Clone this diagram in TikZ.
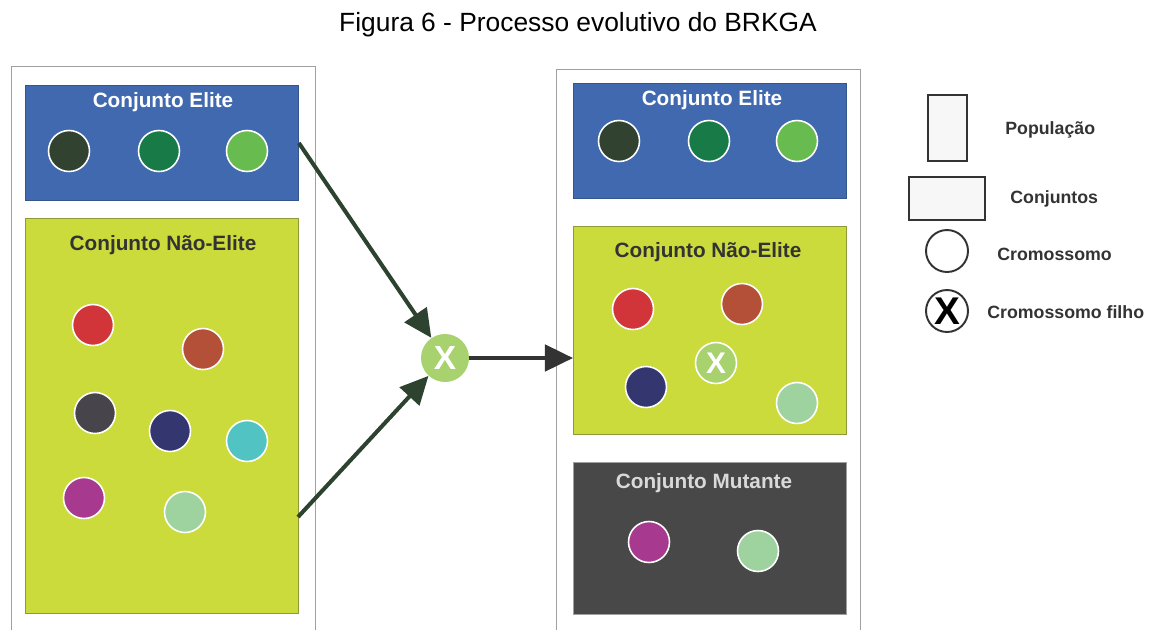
\documentclass[tikz,border=0pt]{standalone}
\usepackage{fontspec}
\setmainfont{Liberation Sans}
\usetikzlibrary{arrows.meta}

\definecolor{eliteblue}{HTML}{4169B0}
\definecolor{limefill}{HTML}{CCDB3C}
\definecolor{limeedge}{HTML}{8E9A3A}
\definecolor{mutgray}{HTML}{484848}
\definecolor{framegray}{HTML}{A0A0A0}
\definecolor{txtdark}{HTML}{333333}
\definecolor{arrgreen}{HTML}{2D4330}
\definecolor{arrdark}{HTML}{333333}
\definecolor{xgreen}{HTML}{A8D26E}
% chromosome colours
\definecolor{cDark}{HTML}{314230}
\definecolor{cGreen}{HTML}{177A47}
\definecolor{cLight}{HTML}{68BB4E}
\definecolor{cRed}{HTML}{D1353A}
\definecolor{cBrown}{HTML}{B44F38}
\definecolor{cGray}{HTML}{47454B}
\definecolor{cNavy}{HTML}{33366F}
\definecolor{cCyan}{HTML}{52C3C3}
\definecolor{cPurple}{HTML}{A7398F}
\definecolor{cMint}{HTML}{9ED3A0}

\tikzset{
  popframe/.style={draw=framegray, line width=0.7pt, fill=white, inner sep=0pt, anchor=north west, minimum width=6.08cm},
  setbox/.style={inner sep=0pt, anchor=north west, minimum width=5.46cm, line width=0.5pt},
  elitebox/.style={setbox, fill=eliteblue, draw=eliteblue!80!black},
  nonbox/.style={setbox, fill=limefill, draw=limeedge},
  mutbox/.style={setbox, fill=mutgray, draw=framegray},
  settitle/.style={font=\bfseries\fontsize{11.8}{14}\selectfont},
  chromo/.style={circle, draw=white, line width=0.9pt, minimum size=0.82cm, inner sep=0pt},
  cross/.style={circle, fill=xgreen, minimum size=0.96cm, inner sep=0pt, text=white, font=\bfseries\fontsize{19}{20}\selectfont},
  feed/.style={draw=arrgreen, line width=2.3pt, -{Triangle[length=16pt,width=15pt]}},
  legshape/.style={draw=txtdark, line width=1.1pt, fill=white!97!black, inner sep=0pt},
  legtext/.style={anchor=west, inner sep=0pt, text=txtdark, font=\bfseries\fontsize{10.1}{12}\selectfont},
}

\begin{document}
\begin{tikzpicture}[x=0.02cm, y=-0.02cm]
\useasboundingbox (0,0) rectangle (1156,629);

% caption
\node (caption) at (578,25) {\fontsize{15}{18}\selectfont Figura 6 - Processo evolutivo do BRKGA};

% ---- current population ----
\node[popframe, minimum height=11.6cm] (popL) at (11,66) {};
\node[elitebox, minimum height=2.3cm] (eliteL) at (25,85) {};
\node[settitle, text=white] (eliteLt) at (163,102) {Conjunto Elite};
\node[chromo, fill=cDark]  (eL1) at (69,151) {};
\node[chromo, fill=cGreen] (eL2) at (159,151) {};
\node[chromo, fill=cLight] (eL3) at (247,151) {};

\node[nonbox, minimum height=7.9cm] (nonL) at (25,218) {};
\node[settitle, text=txtdark] (nonLt) at (163,245) {Conjunto Não-Elite};
\node[chromo, fill=cRed]    (nL1) at (93,325) {};
\node[chromo, fill=cBrown]  (nL2) at (203,349) {};
\node[chromo, fill=cGray]   (nL3) at (95,413) {};
\node[chromo, fill=cNavy]   (nL4) at (170,431) {};
\node[chromo, fill=cCyan]   (nL5) at (247,441) {};
\node[chromo, fill=cPurple] (nL6) at (84,498) {};
\node[chromo, fill=cMint]   (nL7) at (185,512) {};

% ---- crossover ----
\node[cross] (mate) at (445,358) {X};
\coordinate (nonOut) at (298,517);
\draw[feed] (eliteL.east) -- (mate);
\draw[feed] (nonOut) -- (mate);

% ---- next population ----
\node[popframe, minimum height=11.6cm] (popR) at (556,69) {};
\node[elitebox, minimum height=2.3cm] (eliteR) at (573,83) {};
\node[settitle, text=white] (eliteRt) at (712,100) {Conjunto Elite};
\node[chromo, fill=cDark]  (eR1) at (619,141) {};
\node[chromo, fill=cGreen] (eR2) at (709,141) {};
\node[chromo, fill=cLight] (eR3) at (797,141) {};

\node[nonbox, minimum height=4.16cm] (nonR) at (573,226) {};
\node[settitle, text=txtdark] (nonRt) at (708,252) {Conjunto Não-Elite};
\node[chromo, fill=cRed]   (nR1) at (633,309) {};
\node[chromo, fill=cBrown] (nR2) at (742,304) {};
\node[chromo, fill=xgreen, text=white, font=\bfseries\fontsize{17}{18}\selectfont] (nR3) at (716,363) {X};
\node[chromo, fill=cNavy]  (nR4) at (646,387) {};
\node[chromo, fill=cMint]  (nR5) at (797,403) {};

\node[mutbox, minimum height=3.04cm] (mutR) at (573,462) {};
\node[settitle, text=white!85!black] (mutRt) at (704,483) {Conjunto Mutante};
\node[chromo, fill=cPurple] (mR1) at (649,542) {};
\node[chromo, fill=cMint]   (mR2) at (758,551) {};

\draw[feed, draw=arrdark] (mate) -- (mate -| nonR.west);

% ---- legend ----
\node[legshape, minimum width=0.78cm, minimum height=1.32cm] (lgPop) at (947.5,128) {};
\node[legtext] (lgPopT) at (1005,130) {População};
\node[legshape, minimum width=1.52cm, minimum height=0.86cm] (lgSet) at (947,198.5) {};
\node[legtext] (lgSetT) at (1010,199) {Conjuntos};
\node[legshape, circle, fill=white, minimum size=0.84cm] (lgChr) at (947,251) {};
\node[legtext] (lgChrT) at (997,254) {Cromossomo};
\node[legshape, circle, fill=white, minimum size=0.84cm, font=\bfseries\fontsize{22}{22}\selectfont, text=black] (lgKid) at (947,311) {X};
\node[legtext] (lgKidT) at (987,312) {Cromossomo filho};
\end{tikzpicture}
\end{document}
